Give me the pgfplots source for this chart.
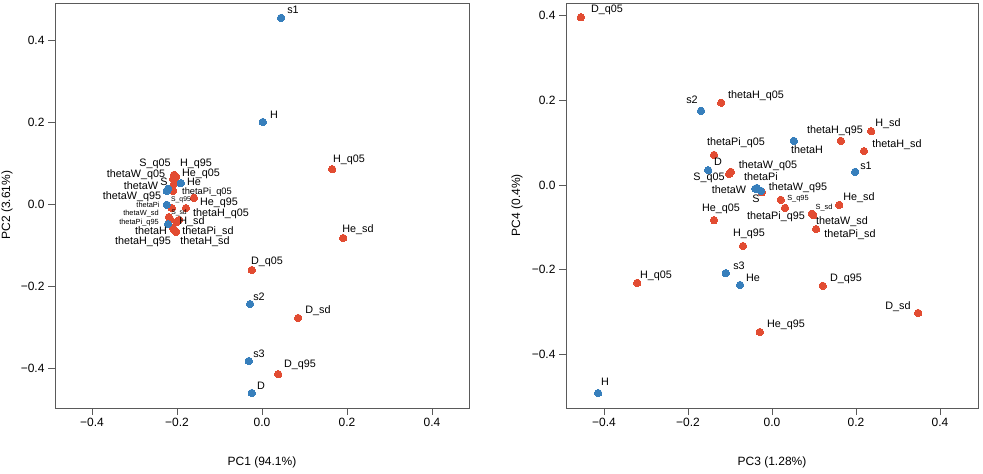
\documentclass[border=0pt]{standalone}
\usepackage{pgfplots}
\pgfplotsset{compat=1.18}
\usepackage{pgfplotstable}
\usepackage{fontspec}
\setmainfont{Liberation Sans}
\definecolor{ptred}{RGB}{226,76,50}
\definecolor{ptblue}{RGB}{55,127,188}
\definecolor{axgray}{RGB}{90,90,90}

\pgfplotstableread{
x y
0.045 0.454
0.002 0.200
-0.191 0.051
-0.224 0.032
-0.221 0.037
-0.224 -0.002
-0.221 -0.049
-0.028 -0.244
-0.031 -0.383
-0.024 -0.461
}\leftblue
\pgfplotstableread{
x y
0.165 0.085
0.191 -0.083
-0.024 -0.161
0.085 -0.278
0.038 -0.415
-0.207 0.071
-0.202 0.066
-0.209 0.061
-0.207 0.049
-0.209 0.032
-0.160 0.015
-0.212 -0.010
-0.179 -0.010
-0.219 -0.032
-0.216 -0.037
-0.198 -0.041
-0.195 -0.039
-0.200 -0.044
-0.209 -0.059
-0.207 -0.063
-0.202 -0.068
}\leftred
\pgfplotstableread{
x y
-0.169 0.175
-0.152 0.035
0.052 0.104
-0.036 -0.007
-0.040 -0.009
-0.026 -0.014
0.198 0.031
-0.110 -0.208
-0.076 -0.236
-0.414 -0.491
}\rightblue
\pgfplotstableread{
x y
-0.455 0.396
-0.121 0.194
0.236 0.127
0.164 0.104
0.219 0.080
-0.138 0.071
-0.098 0.031
-0.102 0.026
-0.024 -0.017
0.021 -0.035
0.031 -0.054
0.160 -0.047
0.095 -0.068
0.098 -0.071
0.105 -0.104
-0.138 -0.083
-0.069 -0.144
-0.321 -0.231
0.121 -0.238
0.348 -0.302
-0.029 -0.347
}\rightred

\newcommand{\lab}[4][10.8]{\node[font=\fontsize{#1}{#1}\selectfont, inner sep=0pt] at ({#2*1pt},{(474-#3)*1pt}) {\strut #4};}

\begin{document}
\begin{tikzpicture}[x=1pt,y=1pt]
\pgfplotsset{
  pcastyle/.style={
    scale only axis,
    height=405pt,
    axis line style={axgray, line width=0.8pt},
    tick style={axgray, line width=0.8pt},
    tick align=outside,
    major tick length=7pt,
    xtick pos=bottom, ytick pos=left,
    ticklabel style={font=\fontsize{12}{12}\selectfont},
    label style={font=\fontsize{12}{12}\selectfont},
    xtick={-0.4,-0.2,0,0.2,0.4},
    xticklabels={−0.4,−0.2,0.0,0.2,0.4},
    ytick={-0.4,-0.2,0,0.2,0.4},
    yticklabels={−0.4,−0.2,0.0,0.2,0.4},
    clip=false,
  },
  red pts/.style={only marks, mark=*, mark size=3.7pt, mark options={fill=ptred, draw=ptred, line width=0pt}},
  blue pts/.style={only marks, mark=*, mark size=3.7pt, mark options={fill=ptblue, draw=ptblue, line width=0pt}},
}
\begin{axis}[pcastyle, at={(55pt,66pt)}, anchor=south west, width=414pt,
  xmin=-0.487, xmax=0.487, ymin=-0.4976, ymax=0.4902]
\addplot[red pts] table[x=x,y=y] {\leftred};
\addplot[blue pts] table[x=x,y=y] {\leftblue};
\end{axis}
\begin{axis}[pcastyle, at={(566pt,66pt)}, anchor=south west, width=412pt,
  xmin=-0.4905, xmax=0.4905, ymin=-0.5263, ymax=0.4295]
\addplot[red pts] table[x=x,y=y] {\rightred};
\addplot[blue pts] table[x=x,y=y] {\rightblue};
\end{axis}
% axis titles
\node[font=\fontsize{12}{12}\selectfont] at (262pt,{(474-462)*1pt}) {PC1 (94.1\%)};
\node[font=\fontsize{12}{12}\selectfont] at (772pt,{(474-462)*1pt}) {PC3 (1.28\%)};
\node[font=\fontsize{12}{12}\selectfont, rotate=90] at (7pt,{(474-205)*1pt}) {PC2 (3.61\%)};
\node[font=\fontsize{12}{12}\selectfont, rotate=90] at (517pt,{(474-205)*1pt}) {PC4 (0.4\%)};
% left labels
\lab{293}{11}{s1}
\lab{274}{116}{H}
\lab{349}{160}{H\_q05}
\lab{358}{230}{He\_sd}
\lab{267}{262}{D\_q05}
\lab{259}{298}{s2}
\lab{318}{311}{D\_sd}
\lab{259}{355}{s3}
\lab{300}{365}{D\_q95}
\lab{261}{387}{D}
\lab{155}{164}{S\_q05}
\lab{196}{164}{H\_q95}
\lab{136}{175}{thetaW\_q05}
\lab{201}{174}{He\_q05}
\lab{141}{187}{thetaW}
\lab{164}{183}{S}
\lab{194}{183}{He}
\lab{132}{197}{thetaW\_q95}
\lab[9.3]{207}{193}{thetaPi\_q05}
\lab[7.4]{148}{206}{thetaPi}
\lab[6.8]{181}{200}{S\_q95}
\lab{219}{203}{He\_q95}
\lab[7.4]{141}{214}{thetaW\_sd}
\lab[6.8]{179}{213}{S\_sd}
\lab{221}{214}{thetaH\_q05}
\lab[7.4]{139}{223}{thetaPi\_q95}
\lab{192}{222}{H\_sd}
\lab{151}{232}{thetaH}
\lab{208}{232}{thetaPi\_sd}
\lab{143}{242}{thetaH\_q95}
\lab{205}{242}{thetaH\_sd}
% right labels
\lab{607}{10}{D\_q05}
\lab{692}{101}{s2}
\lab{756}{96}{thetaH\_q05}
\lab{888}{124}{H\_sd}
\lab{835}{131}{thetaH\_q95}
\lab{897}{145}{thetaH\_sd}
\lab{736}{143}{thetaPi\_q05}
\lab{807}{151}{thetaH}
\lab{718}{163}{D}
\lab{768}{166}{thetaW\_q05}
\lab{866}{167}{s1}
\lab{709}{178}{S\_q05}
\lab{761}{178}{thetaPi}
\lab{729}{191}{thetaW}
\lab{798}{188}{thetaW\_q95}
\lab{756}{200}{S}
\lab[7.4]{798}{199}{S\_q95}
\lab{859}{198}{He\_sd}
\lab{721}{209}{He\_q05}
\lab{776}{217}{thetaPi\_q95}
\lab[7.4]{824}{208}{S\_sd}
\lab{842}{222}{thetaW\_sd}
\lab{850}{235}{thetaPi\_sd}
\lab{749}{234}{H\_q95}
\lab{739}{267}{s3}
\lab{753}{279}{He}
\lab{656}{276}{H\_q05}
\lab{846}{279}{D\_q95}
\lab{898}{307}{D\_sd}
\lab{786}{325}{He\_q95}
\lab{605}{383}{H}
\pgfresetboundingbox
\useasboundingbox (0,0) rectangle (983pt,474pt);
\end{tikzpicture}
\end{document}
